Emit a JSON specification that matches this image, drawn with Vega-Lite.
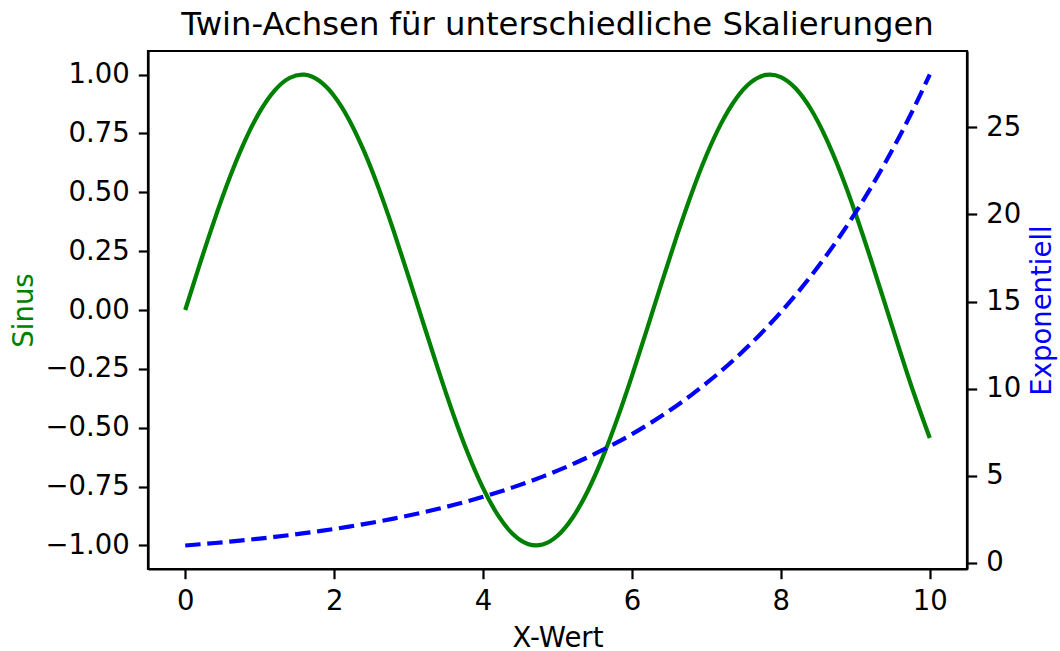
{
  "$schema": "https://vega.github.io/schema/vega-lite/v6.json",
  "width": 819,
  "height": 518,
  "autosize": {"type": "none"},
  "padding": {"left": 148, "top": 51, "right": 93, "bottom": 82},
  "background": "white",
  "title": {"text": "Twin-Achsen für unterschiedliche Skalierungen", "fontSize": 32.3, "font": "DejaVu Sans", "fontWeight": "normal", "color": "black", "anchor": "middle", "offset": 10},
  "config": {
    "font": "DejaVu Sans",
    "view": {"stroke": "black", "strokeWidth": 2.2},
    "axis": {"grid": false, "domainColor": "black", "domainWidth": 2.2, "tickColor": "black", "tickWidth": 2.2, "tickSize": 9.7, "labelFontSize": 27.5, "labelFont": "DejaVu Sans", "labelColor": "black", "titleFontSize": 27.5, "titleFont": "DejaVu Sans", "titleFontWeight": "normal", "labelPadding": 9, "labelFlush": false, "labelOverlap": false}
  },
  "data": {"values": [
    {"x": 0, "sinus": 0, "expo": 1},
    {"x": 0.2, "sinus": 0.1987, "expo": 1.0689},
    {"x": 0.4, "sinus": 0.3894, "expo": 1.1426},
    {"x": 0.6, "sinus": 0.5646, "expo": 1.2214},
    {"x": 0.8, "sinus": 0.7174, "expo": 1.3056},
    {"x": 1.0, "sinus": 0.8415, "expo": 1.3956},
    {"x": 1.2, "sinus": 0.932, "expo": 1.4918},
    {"x": 1.4, "sinus": 0.9854, "expo": 1.5947},
    {"x": 1.6, "sinus": 0.9996, "expo": 1.7046},
    {"x": 1.8, "sinus": 0.9738, "expo": 1.8221},
    {"x": 2.0, "sinus": 0.9093, "expo": 1.9477},
    {"x": 2.2, "sinus": 0.8085, "expo": 2.082},
    {"x": 2.4, "sinus": 0.6755, "expo": 2.2255},
    {"x": 2.6, "sinus": 0.5155, "expo": 2.379},
    {"x": 2.8, "sinus": 0.335, "expo": 2.543},
    {"x": 3.0, "sinus": 0.1411, "expo": 2.7183},
    {"x": 3.2, "sinus": -0.0584, "expo": 2.9057},
    {"x": 3.4, "sinus": -0.2555, "expo": 3.1061},
    {"x": 3.6, "sinus": -0.4425, "expo": 3.3201},
    {"x": 3.8, "sinus": -0.6119, "expo": 3.549},
    {"x": 4.0, "sinus": -0.7568, "expo": 3.7937},
    {"x": 4.2, "sinus": -0.8716, "expo": 4.0552},
    {"x": 4.4, "sinus": -0.9516, "expo": 4.3348},
    {"x": 4.6, "sinus": -0.9937, "expo": 4.6336},
    {"x": 4.8, "sinus": -0.9962, "expo": 4.953},
    {"x": 5.0, "sinus": -0.9589, "expo": 5.2945},
    {"x": 5.2, "sinus": -0.8835, "expo": 5.6595},
    {"x": 5.4, "sinus": -0.7728, "expo": 6.0496},
    {"x": 5.6, "sinus": -0.6313, "expo": 6.4666},
    {"x": 5.8, "sinus": -0.4646, "expo": 6.9124},
    {"x": 6.0, "sinus": -0.2794, "expo": 7.3891},
    {"x": 6.2, "sinus": -0.0831, "expo": 7.8984},
    {"x": 6.4, "sinus": 0.1165, "expo": 8.4429},
    {"x": 6.6, "sinus": 0.3115, "expo": 9.025},
    {"x": 6.8, "sinus": 0.4941, "expo": 9.6472},
    {"x": 7.0, "sinus": 0.657, "expo": 10.3123},
    {"x": 7.2, "sinus": 0.7937, "expo": 11.0232},
    {"x": 7.4, "sinus": 0.8987, "expo": 11.7832},
    {"x": 7.6, "sinus": 0.9679, "expo": 12.5954},
    {"x": 7.8, "sinus": 0.9985, "expo": 13.4637},
    {"x": 8.0, "sinus": 0.9894, "expo": 14.3919},
    {"x": 8.2, "sinus": 0.9407, "expo": 15.3841},
    {"x": 8.4, "sinus": 0.8546, "expo": 16.4446},
    {"x": 8.6, "sinus": 0.7344, "expo": 17.5783},
    {"x": 8.8, "sinus": 0.5849, "expo": 18.7902},
    {"x": 9.0, "sinus": 0.4121, "expo": 20.0855},
    {"x": 9.2, "sinus": 0.2229, "expo": 21.4702},
    {"x": 9.4, "sinus": 0.0248, "expo": 22.9503},
    {"x": 9.6, "sinus": -0.1743, "expo": 24.5325},
    {"x": 9.8, "sinus": -0.3665, "expo": 26.2237},
    {"x": 10.0, "sinus": -0.544, "expo": 28.0316}
  ]},
  "encoding": {
    "x": {"field": "x", "type": "quantitative", "scale": {"domain": [-0.5, 10.5], "nice": false, "zero": false},
      "axis": {"title": "X-Wert", "values": [0, 2, 4, 6, 8, 10], "format": "d", "titleColor": "black", "titlePadding": 9}}
  },
  "layer": [
    {
      "mark": {"type": "line", "color": "green", "strokeWidth": 4.2, "interpolate": "natural"},
      "encoding": {
        "y": {"field": "sinus", "type": "quantitative", "scale": {"domain": [-1.1, 1.1], "nice": false, "zero": false},
          "axis": {"title": "Sinus", "orient": "left", "values": [-1, -0.75, -0.5, -0.25, 0, 0.25, 0.5, 0.75, 1], "format": ".2f", "titleColor": "green", "titlePadding": 7}}
      }
    },
    {
      "mark": {"type": "line", "color": "blue", "strokeWidth": 4.2, "strokeDash": [15.4, 6.7], "interpolate": "natural"},
      "encoding": {
        "y": {"field": "expo", "type": "quantitative", "scale": {"domain": [-0.35, 29.38], "nice": false, "zero": false},
          "axis": {"title": "Exponentiell", "orient": "right", "titleAngle": 270, "titleBaseline": "top", "values": [0, 5, 10, 15, 20, 25], "format": "d", "titleColor": "blue", "titlePadding": 8}}
      }
    }
  ],
  "resolve": {"scale": {"y": "independent"}}
}
